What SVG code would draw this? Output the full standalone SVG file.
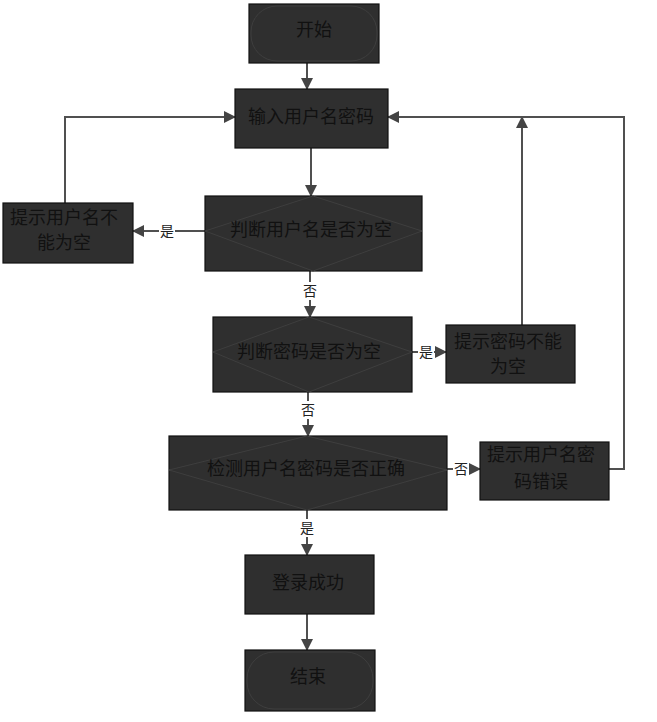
<svg xmlns="http://www.w3.org/2000/svg" width="657" height="722" viewBox="0 0 657 722">
<defs>
<marker id="arr" markerUnits="userSpaceOnUse" markerWidth="12" markerHeight="12" viewBox="0 0 12 12" refX="11" refY="6" orient="auto">
<path d="M0,0 L12,6 L0,12 Z" fill="#444"/>
</marker>
<style>
.box{fill:#2f2f2f;stroke:#111;stroke-width:1.2}
.inner{fill:none;stroke:#3e3e3e;stroke-width:1}
.t{font-family:"Liberation Serif","Noto Sans CJK SC",serif;font-size:18px;fill:#111;text-anchor:middle;dominant-baseline:central}
.lbl{font-family:"Liberation Serif","Noto Sans CJK SC",serif;font-size:14px;fill:#222;text-anchor:middle;dominant-baseline:central}
.lb{fill:#fff}
.c{fill:none;stroke:#505050;stroke-width:2}
</style>
</defs>
<rect width="657" height="722" fill="#fff"/>

<g id="connectors">
<path class="c" d="M307,63 V89" marker-end="url(#arr)"/>
<path class="c" d="M311,148 V196" marker-end="url(#arr)"/>
<path class="c" d="M205,231 H133" marker-end="url(#arr)"/>
<path class="c" d="M65,203 V117 H235" marker-end="url(#arr)"/>
<path class="c" d="M310,271 V317" marker-end="url(#arr)"/>
<path class="c" d="M412,352 H446" marker-end="url(#arr)"/>
<path class="c" d="M522,325 V117" marker-end="url(#arr)"/>
<path class="c" d="M308,392 V436" marker-end="url(#arr)"/>
<path class="c" d="M447,469 H480" marker-end="url(#arr)"/>
<path class="c" d="M609,469 H624 V117 H388" marker-end="url(#arr)"/>
<path class="c" d="M307,510 V555" marker-end="url(#arr)"/>
<path class="c" d="M307,614 V650" marker-end="url(#arr)"/>
<rect class="lb" x="159" y="222" width="16" height="18"/>
<text class="lbl" x="167" y="231">是</text>
<rect class="lb" x="302" y="282" width="16" height="18"/>
<text class="lbl" x="310" y="291">否</text>
<rect class="lb" x="418" y="343" width="16" height="18"/>
<text class="lbl" x="426" y="352">是</text>
<rect class="lb" x="300" y="401" width="16" height="18"/>
<text class="lbl" x="308" y="410">否</text>
<rect class="lb" x="453" y="460" width="16" height="18"/>
<text class="lbl" x="461" y="469">否</text>
<rect class="lb" x="299" y="519" width="16" height="18"/>
<text class="lbl" x="307" y="528">是</text>
</g>

<g id="start">
<rect class="box" x="249" y="4" width="130" height="59"/>
<rect class="inner" x="251" y="6" width="126" height="55" rx="26"/>
<text class="t" x="314" y="30">开始</text>
</g>

<g id="input">
<rect class="box" x="235" y="89" width="153" height="59"/>
<text class="t" x="311" y="117">输入用户名密码</text>
</g>

<g id="judge1">
<rect class="box" x="205" y="196" width="217" height="75"/>
<path class="inner" d="M205,231 L313,196 L422,231 L313,271 Z"/>
<text class="t" x="311" y="230">判断用户名是否为空</text>
</g>

<g id="prompt1">
<rect class="box" x="3" y="203" width="130" height="60"/>
<text class="t" x="64" y="218">提示用户名不</text>
<text class="t" x="64" y="243">能为空</text>
</g>

<g id="judge2">
<rect class="box" x="213" y="317" width="199" height="75"/>
<path class="inner" d="M213,352 L309,317 L412,352 L309,392 Z"/>
<text class="t" x="309" y="352">判断密码是否为空</text>
</g>

<g id="prompt2">
<rect class="box" x="446" y="325" width="129" height="58"/>
<text class="t" x="508" y="342">提示密码不能</text>
<text class="t" x="508" y="367">为空</text>
</g>

<g id="judge3">
<rect class="box" x="169" y="436" width="278" height="74"/>
<path class="inner" d="M169,470 L307,436 L447,470 L307,510 Z"/>
<text class="t" x="306" y="469">检测用户名密码是否正确</text>
</g>

<g id="prompt3">
<rect class="box" x="480" y="442" width="129" height="58"/>
<text class="t" x="541" y="455">提示用户名密</text>
<text class="t" x="541" y="482">码错误</text>
</g>

<g id="login">
<rect class="box" x="245" y="555" width="129" height="59"/>
<text class="t" x="308" y="583">登录成功</text>
</g>

<g id="end">
<rect class="box" x="245" y="650" width="130" height="61"/>
<rect class="inner" x="247" y="652" width="126" height="57" rx="27"/>
<text class="t" x="308" y="677">结束</text>
</g>
</svg>
